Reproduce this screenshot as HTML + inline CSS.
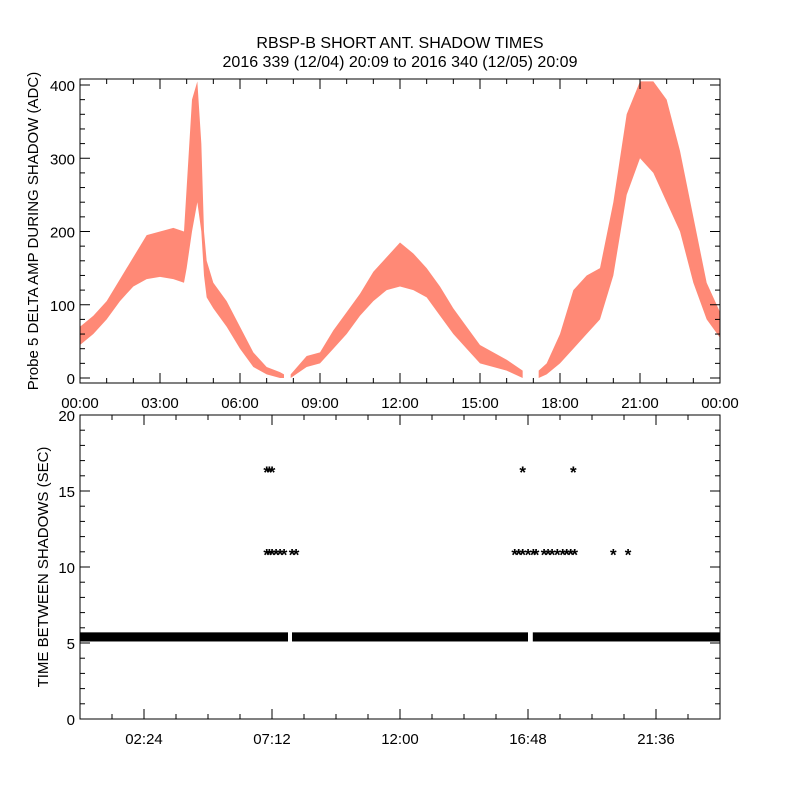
<!DOCTYPE html>
<html><head><meta charset="utf-8"><style>
body{margin:0;background:#fff}
svg text{font-family:"Liberation Sans",sans-serif;fill:#000}
</style></head><body>
<svg id="c" width="800" height="800" viewBox="0 0 800 800" xmlns="http://www.w3.org/2000/svg">
<rect width="800" height="800" fill="#fff"/>
<text x="400" y="48" font-size="16" text-anchor="middle">RBSP-B SHORT ANT. SHADOW TIMES</text>
<text x="400" y="67" font-size="16" text-anchor="middle">2016 339 (12/04) 20:09 to 2016 340 (12/05) 20:09</text>
<g id="topPanel"></g><g id="botPanel"></g>
</svg>
<script>
// top panel data: hours, lower and upper envelope of probe 5 delta amp
const ampHours=[0,0.5,1,1.5,2,2.5,3,3.5,3.9,4.0,4.2,4.4,4.55,4.65,4.75,5,5.5,6,6.5,7,7.5,7.65];
const ampLo=[45,60,80,105,125,135,138,135,130,150,200,240,200,140,110,95,70,40,15,5,0,0];
const ampHi=[70,85,105,135,165,195,200,205,200,260,380,405,320,200,160,130,105,70,35,15,8,5];
const ampHours2=[7.9,8.5,9,9.5,10,10.5,11,11.5,12,12.5,13,13.5,14,14.5,15,15.5,16,16.6];
const ampLo2=[0,15,20,40,60,85,105,120,125,120,110,85,60,40,20,15,10,0];
const ampHi2=[5,30,35,65,90,115,145,165,185,170,150,125,95,70,45,35,25,10];
const ampHours3=[17.2,17.5,18,18.5,19,19.5,20,20.5,21,21.5,22,22.5,23,23.5,24];
const ampLo3=[0,5,20,40,60,80,140,250,300,280,240,200,130,80,55];
const ampHi3=[10,20,60,120,140,150,240,360,405,405,380,310,220,130,90];
const topYTicks=[0,100,200,300,400];
const topXLabels=["00:00","03:00","06:00","09:00","12:00","15:00","18:00","21:00","00:00"];
// bottom panel data
const baseSegments=[[0,7.8],[7.95,16.8],[16.98,24]];
const baseLo=5.1, baseHi=5.7;
const star16Hours=[7.0,7.1,7.2,16.6,18.5];
const star16Val=[16.3,16.3,16.3,16.3,16.3];
const star11Hours=[7.0,7.1,7.2,7.35,7.5,7.65,7.95,8.1,16.3,16.45,16.6,16.8,17.0,17.1,17.4,17.55,17.7,17.9,18.1,18.25,18.4,18.55,20.0,20.55];
const star11Val=[10.9,10.9,10.9,10.9,10.9,10.9,10.9,10.9,10.9,10.9,10.9,10.9,10.9,10.9,10.9,10.9,10.9,10.9,10.9,10.9,10.9,10.9,10.9,10.9];
const botYTicks=[0,5,10,15,20];
const botXLabels=["02:24","07:12","12:00","16:48","21:36"];

const NS="http://www.w3.org/2000/svg";
function mk(p,t,a){const e=document.createElementNS(NS,t);for(const k in a)e.setAttribute(k,a[k]);p.appendChild(e);return e;}
const X0=80,X1=720;
const xs=h=>X0+h*(X1-X0)/24;
const yT=v=>378-v*0.7325;
const yB=v=>719-v*15.2;
const topG=document.getElementById('topPanel'), botG=document.getElementById('botPanel');

[[ampHours,ampLo,ampHi],[ampHours2,ampLo2,ampHi2],[ampHours3,ampLo3,ampHi3]].forEach((s,i)=>{
  let pts=s[0].map((h,j)=>xs(h)+','+yT(s[2][j]));
  pts=pts.concat(s[0].map((h,j)=>xs(h)+','+yT(s[1][j])).reverse());
  const p=mk(topG,'polygon',{points:pts.join(' '),fill:'#ff3a1a','fill-opacity':'0.6'});
  
  
});
const tf=mk(topG,'rect',{x:80,y:79,width:640,height:304,fill:'none',stroke:'#000','stroke-width':1});


for(let v=0;v<=400;v+=20){const y=yT(v),L=v%100===0?10:5;
  mk(topG,'line',{x1:80,x2:80+L,y1:y,y2:y,stroke:'#000'});mk(topG,'line',{x1:720,x2:720-L,y1:y,y2:y,stroke:'#000'});}
topYTicks.forEach(v=>{const t=mk(topG,'text',{x:75,y:yT(v)+6,'font-size':15,'text-anchor':'end'});t.textContent=v;
  
  });
for(let h=0;h<=24;h+=1){const L=h%3===0?10:5;
  mk(topG,'line',{x1:xs(h),x2:xs(h),y1:383,y2:383-L,stroke:'#000'});mk(topG,'line',{x1:xs(h),x2:xs(h),y1:79,y2:79+L,stroke:'#000'});}
topXLabels.forEach((s,i)=>{const t=mk(topG,'text',{x:xs(i*3),y:408,'font-size':15,'text-anchor':'middle'});t.textContent=s;
  
  });
const ty=mk(topG,'text',{x:0,y:0,'font-size':15,'text-anchor':'middle',transform:'translate(38,231) rotate(-90)'});
ty.textContent='Probe 5 DELTA AMP DURING SHADOW (ADC)';



baseSegments.forEach(s=>{const r=mk(botG,'rect',{x:xs(s[0]),y:yB(baseHi),width:xs(s[1])-xs(s[0]),height:yB(baseLo)-yB(baseHi),fill:'#000'});
  
  });
function star(h,v){const t=mk(botG,'text',{x:xs(h),y:yB(v)+7,'font-size':17,'text-anchor':'middle','font-weight':'bold'});t.textContent='*';
  
  }
star16Hours.forEach((h,i)=>star(h,star16Val[i]));
star11Hours.forEach((h,i)=>star(h,star11Val[i]));
const bf=mk(botG,'rect',{x:80,y:415,width:640,height:304,fill:'none',stroke:'#000'});


for(let v=0;v<=20;v++){const y=yB(v),L=v%5===0?10:5;
  mk(botG,'line',{x1:80,x2:80+L,y1:y,y2:y,stroke:'#000'});mk(botG,'line',{x1:720,x2:720-L,y1:y,y2:y,stroke:'#000'});}
botYTicks.forEach(v=>{const t=mk(botG,'text',{x:75,y:yB(v)+6,'font-size':15,'text-anchor':'end'});t.textContent=v;
  
  });
for(let i=0;i<=20;i++){const h=i*1.2,L=(i%4===2)?10:5;
  mk(botG,'line',{x1:xs(h),x2:xs(h),y1:719,y2:719-L,stroke:'#000'});mk(botG,'line',{x1:xs(h),x2:xs(h),y1:415,y2:415+L,stroke:'#000'});}
botXLabels.forEach((s,i)=>{const t=mk(botG,'text',{x:xs(2.4+i*4.8),y:744,'font-size':15,'text-anchor':'middle'});t.textContent=s;
  
  });
const by=mk(botG,'text',{x:0,y:0,'font-size':15,'text-anchor':'middle',transform:'translate(48,567) rotate(-90)'});
by.textContent='TIME BETWEEN SHADOWS (SEC)';


</script>
</body></html>
